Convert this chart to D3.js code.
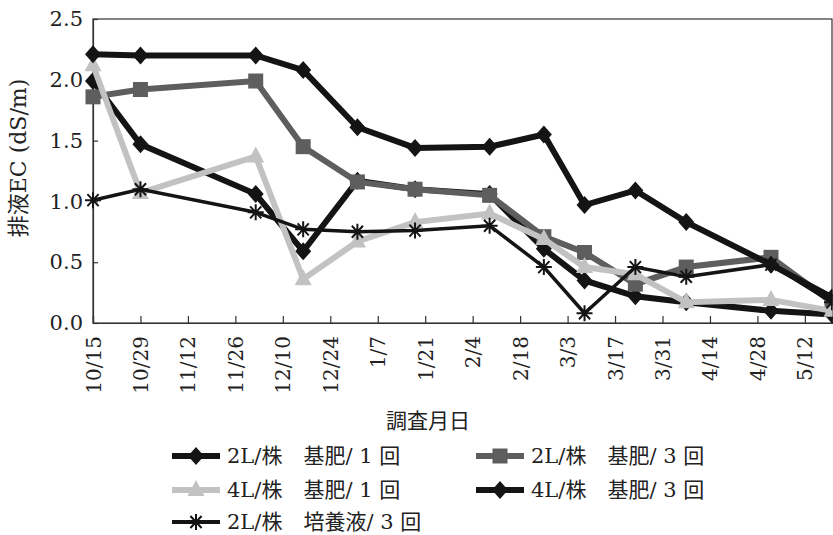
<!DOCTYPE html>
<html><head><meta charset="utf-8">
<script src="https://cdn.jsdelivr.net/npm/d3@7"></script>
<style>
html,body{margin:0;padding:0;background:#fff;}
svg{display:block;}
</style></head>
<body><svg id="c" width="833" height="535"></svg>
<script>
const dates = ["2003-10-15","2003-10-29","2003-12-02","2003-12-16","2004-01-01","2004-01-18","2004-02-09","2004-02-25","2004-03-08","2004-03-23","2004-04-07","2004-05-02","2004-05-20"];
const s2L_base1 = [1.99,1.47,1.06,0.59,1.17,1.10,1.06,0.61,0.35,0.22,0.17,0.10,0.07];
const s2L_base3 = [1.86,1.92,1.99,1.45,1.16,1.10,1.05,0.71,0.58,0.32,0.46,0.54,0.17];
const s4L_base1 = [2.12,1.07,1.37,0.36,0.67,0.83,0.90,0.69,0.46,0.40,0.17,0.19,0.10];
const s4L_base3 = [2.21,2.20,2.20,2.08,1.61,1.44,1.45,1.55,0.97,1.09,0.83,0.48,0.21];
const s2L_sol3  = [1.01,1.10,0.91,0.77,0.75,0.76,0.80,0.46,0.08,0.46,0.38,0.48,0.17];
const seriesNames = ["2L/株　基肥/ 1 回","2L/株　基肥/ 3 回","4L/株　基肥/ 1 回","4L/株　基肥/ 3 回","2L/株　培養液/ 3 回"];
const tickLabels = ["10/15","10/29","11/12","11/26","12/10","12/24","1/7","1/21","2/4","2/18","3/3","3/17","3/31","4/14","4/28","5/12"];
const yTicks = [0,0.5,1.0,1.5,2.0,2.5];
const xTitle = "調査月日";
const yTitle = "排液EC (dS/m)";

const parse = d3.timeParse("%Y-%m-%d");
const X0 = 93, X1 = 832, Y0 = 323, Y1 = 19;
const FONT = '"DejaVu Serif","Noto Sans CJK JP",serif';
const x = d3.scaleTime().domain([parse("2003-10-15"), parse("2004-05-20")]).range([X0, X1]);
const y = d3.scaleLinear().domain([0, 2.5]).range([Y0, Y1]);
const tickDates = tickLabels.map((t,i)=>d3.timeDay.offset(parse("2003-10-15"), i*14));

const svg = d3.select("#c");
const series = [
  {name:seriesNames[0], vals:s2L_base1, color:"#141414", w:6, marker:"diamond"},
  {name:seriesNames[1], vals:s2L_base3, color:"#5e5e5e", w:6, marker:"square"},
  {name:seriesNames[2], vals:s4L_base1, color:"#c2c2c2", w:6, marker:"triangle"},
  {name:seriesNames[3], vals:s4L_base3, color:"#141414", w:6, marker:"diamond"},
  {name:seriesNames[4], vals:s2L_sol3,  color:"#141414", w:3.5, marker:"star"}
];

svg.append("rect").attr("x",X0).attr("y",Y1).attr("width",X1-X0).attr("height",Y0-Y1)
  .attr("fill","none").attr("stroke","#333").attr("stroke-width",1.2);

const xAxis = d3.axisBottom(x).tickValues(tickDates).tickSize(-7).tickFormat((d,i)=>tickLabels[i]);
const gx = svg.append("g").attr("transform",`translate(0,${Y0})`).call(xAxis);
gx.select(".domain").attr("stroke","#333").attr("stroke-width",1.2);
gx.selectAll(".tick line").attr("stroke","#333").attr("stroke-width",1.2);
gx.selectAll(".tick text").style("font-family",FONT).style("font-size","20px").attr("fill","#222")
  .attr("transform","rotate(-90)").attr("text-anchor","end")
  .attr("x",-13).attr("y",0).attr("dy","0.35em");

const yAxis = d3.axisLeft(y).tickValues(yTicks).tickSize(-5).tickPadding(10).tickFormat(d3.format(".1f"));
const gy = svg.append("g").attr("transform",`translate(${X0},0)`).call(yAxis);
gy.select(".domain").attr("stroke","#333").attr("stroke-width",1.2);
gy.selectAll(".tick line").attr("stroke","#333").attr("stroke-width",1.2);
gy.selectAll(".tick text").style("font-family",FONT).style("font-size","21px").attr("fill","#222");

svg.append("text").attr("x",428).attr("y",428).attr("text-anchor","middle").style("font-family",FONT)
  .style("font-size","21px").attr("fill","#222").text(xTitle);
svg.append("text").attr("transform","translate(26,158) rotate(-90)").attr("text-anchor","middle").style("font-family",FONT)
  .style("font-size","22px").attr("fill","#222").text(yTitle);

function drawMarker(g, type, cx, cy, color){
  if(type==="diamond"){
    g.append("path").attr("d",`M${cx},${cy-9}L${cx+8},${cy}L${cx},${cy+9}L${cx-8},${cy}Z`).attr("fill",color);
  } else if(type==="square"){
    g.append("rect").attr("x",cx-7.5).attr("y",cy-7.5).attr("width",15).attr("height",15).attr("fill",color);
  } else if(type==="triangle"){
    g.append("path").attr("d",`M${cx},${cy-10}L${cx+8.5},${cy+6}L${cx-8.5},${cy+6}Z`).attr("fill",color);
  } else if(type==="star"){
    const r=8;
    let d=`M${cx-r},${cy}L${cx+r},${cy}M${cx-r*0.7},${cy-r*0.75}L${cx+r*0.7},${cy+r*0.75}M${cx-r*0.7},${cy+r*0.75}L${cx+r*0.7},${cy-r*0.75}M${cx},${cy-r}L${cx},${cy+r}`;
    g.append("path").attr("d",d).attr("stroke",color).attr("stroke-width",2).attr("fill","none");
  }
}

svg.append("clipPath").attr("id","pc").append("rect")
  .attr("x",X0-12).attr("y",Y1-12).attr("width",X1-X0+12.5).attr("height",Y0-Y1+24);
const plot = svg.append("g").attr("clip-path","url(#pc)");
const line = d3.line().x(d=>x(parse(d[0]))).y(d=>y(d[1]));
series.forEach(s=>{
  const pts = dates.map((d,i)=>[d,s.vals[i]]);
  const g = plot.append("g");
  g.append("path").attr("d",line(pts)).attr("fill","none").attr("stroke",s.color)
    .attr("stroke-width",s.w).attr("stroke-linejoin","miter");
  pts.forEach(p=>drawMarker(g, s.marker, x(parse(p[0])), y(p[1]), s.color));
});

const legPos = [[172,456],[476,456],[172,490],[476,490],[172,522]];
series.forEach((s,i)=>{
  const [lx,ly] = legPos[i];
  const g = svg.append("g");
  g.append("line").attr("x1",lx).attr("x2",lx+48).attr("y1",ly).attr("y2",ly)
    .attr("stroke",s.color).attr("stroke-width",s.w===6?6:4);
  drawMarker(g, s.marker, lx+24, ly, s.color);
  g.append("text").attr("x",lx+55).attr("y",ly).attr("dy","0.35em").style("font-family",FONT)
    .style("font-size","21px").attr("fill","#222").text(s.name);
});
</script></body></html>
